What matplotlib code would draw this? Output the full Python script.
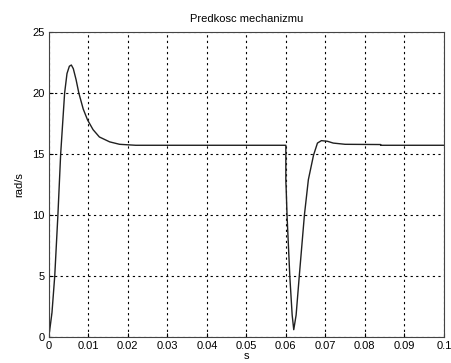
import matplotlib
matplotlib.use("Agg")
import matplotlib.pyplot as plt

t = [0, 0.0008, 0.0015, 0.0023, 0.003, 0.004, 0.0046, 0.0052, 0.0057, 0.0062,
     0.0069, 0.0076, 0.0087, 0.0098, 0.0112, 0.0128, 0.0154, 0.0179, 0.022, 0.06,
     0.06, 0.0601, 0.0603, 0.061, 0.0616, 0.062, 0.0626, 0.0634, 0.0647, 0.0657, 0.067,
     0.068, 0.069, 0.0705, 0.072, 0.075, 0.084, 0.084, 0.1]
v = [0, 2, 5, 10, 15, 20, 21.6, 22.2, 22.3, 22.0,
     21.1, 20, 18.7, 17.8, 17.0, 16.4, 16.0, 15.8, 15.72, 15.72,
     12.8, 12.0, 10, 5, 1.8, 0.6, 1.8, 5, 10, 12.9, 14.9,
     15.9, 16.1, 16.05, 15.9, 15.8, 15.78, 15.72, 15.72]

xticks = [0, 0.01, 0.02, 0.03, 0.04, 0.05, 0.06, 0.07, 0.08, 0.09, 0.1]
xticklabels = ["0", "0.01", "0.02", "0.03", "0.04", "0.05", "0.06", "0.07", "0.08", "0.09", "0.1"]
yticks = [0, 5, 10, 15, 20, 25]

plt.rcParams['font.family'] = ['Liberation Sans', 'DejaVu Sans']
fig = plt.figure(figsize=(4.52, 3.63), dpi=100)
ax = fig.add_axes([0.108, 0.0716, 0.874, 0.840])
ax.plot(t, v, color='#202020', lw=1.0)
ax.set_xlim(0, 0.1)
ax.set_ylim(0, 25)
ax.set_xticks(xticks)
ax.set_xticklabels(xticklabels)
ax.set_yticks(yticks)
ax.grid(True, color='black', linestyle=(0, (2, 3)), linewidth=0.8)
ax.tick_params(direction='in', labelsize=8, length=3, pad=3)
for s in ax.spines.values():
    s.set_color('#444444')
    s.set_linewidth(0.8)
ax.set_title("Predkosc mechanizmu", fontsize=8, pad=7.5)
ax.set_xlabel("s", fontsize=8, labelpad=0)
ax.set_ylabel("rad/s", fontsize=8, labelpad=6)
fig.savefig("out.png", dpi=100, facecolor='white')
